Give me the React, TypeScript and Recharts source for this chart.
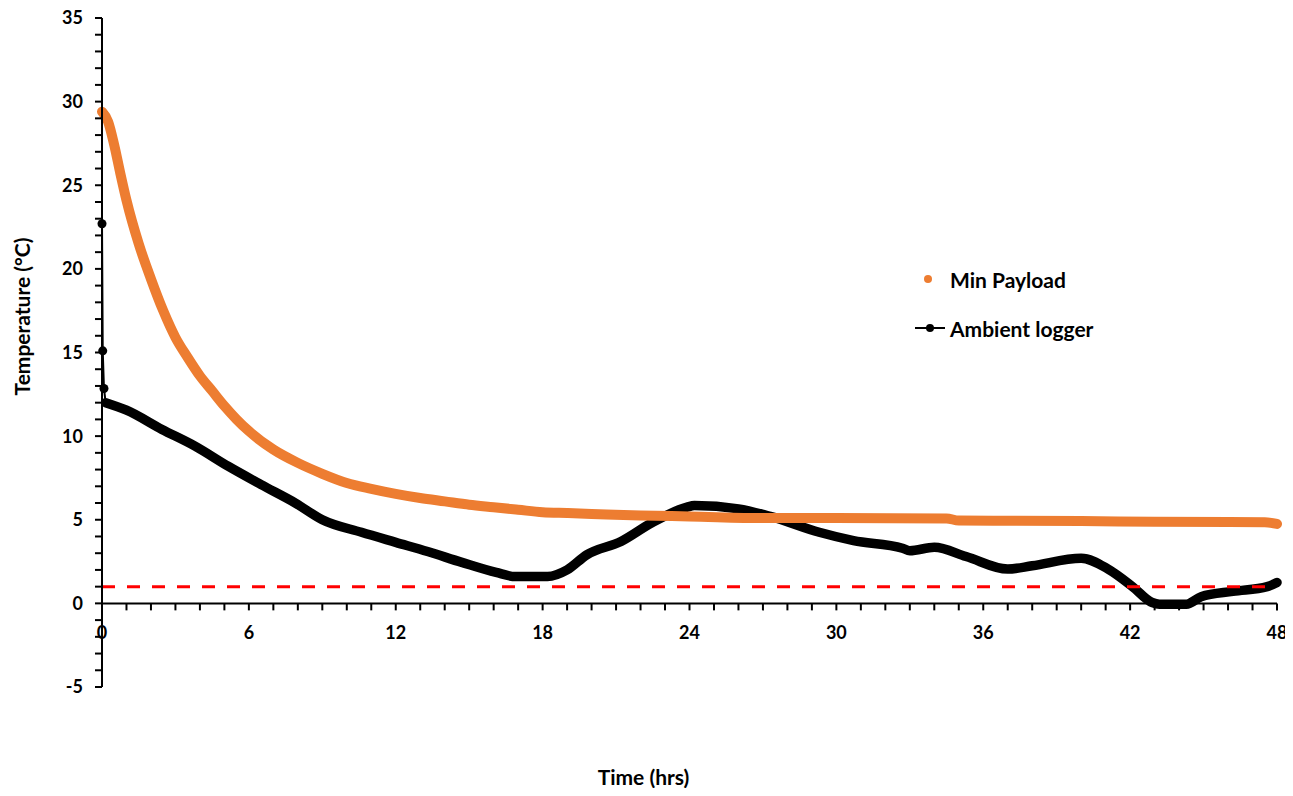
import React from 'react';
import { LineChart, Line, XAxis, YAxis, ReferenceLine, Legend } from 'recharts';

// Min Payload (orange)
const payloadTime = [0, 0.25, 0.5, 0.75, 1, 1.5, 2, 2.5, 3, 3.5, 4, 4.5, 5, 5.5, 6, 7, 8, 9, 10, 11, 12, 13, 14, 15, 16, 17, 18, 19, 20, 22, 24, 27, 30, 34.5, 35, 40, 43, 47.5, 48];
const payloadTemp = [29.4, 28.8, 27.4, 25.7, 24.1, 21.5, 19.4, 17.5, 15.9, 14.7, 13.6, 12.7, 11.8, 11.0, 10.3, 9.2, 8.4, 7.75, 7.2, 6.85, 6.55, 6.3, 6.1, 5.9, 5.75, 5.6, 5.45, 5.4, 5.35, 5.25, 5.2, 5.1, 5.1, 5.08, 4.95, 4.92, 4.88, 4.85, 4.75];

// Ambient logger (black)
const loggerTime = [0, 0.03, 0.08, 0.15, 1, 2.45, 3.8, 5.15, 6.5, 7.9, 9, 10.6, 12, 13.3, 14.7, 16.1, 16.9, 18.2, 19, 19.8, 21.2, 22.5, 23.9, 24.2, 26, 27.3, 29.3, 30.7, 32.7, 33, 34, 35.3, 37, 38, 40, 41.1, 42.1, 42.9, 43.2, 44.3, 44.9, 46.2, 47.6, 48];
const loggerTemp = [22.7, 15.1, 12.85, 12.0, 11.55, 10.4, 9.4, 8.2, 7.1, 6.0, 5.0, 4.25, 3.65, 3.1, 2.45, 1.85, 1.6, 1.6, 2.0, 2.9, 3.7, 4.85, 5.75, 5.85, 5.65, 5.2, 4.25, 3.75, 3.3, 3.15, 3.35, 2.8, 2.05, 2.25, 2.7, 2.05, 1.0, 0.05, -0.05, -0.05, 0.4, 0.72, 1.0, 1.25];

const limitTemp = 1;

const xTicks = Array.from({ length: 49 }, (_, i) => i);
const yTicks = Array.from({ length: 41 }, (_, i) => i - 5);
const Y_MIN = -5;
const Y_MAX = 35;

const payload = payloadTime.map((t, i) => ({ t, v: payloadTemp[i] }));
const logger = loggerTime.map((t, i) => ({ t, v: loggerTemp[i] }));

const W = 1293;
const H = 796;
const margin = { top: 18, right: 16, bottom: 9, left: 42 };
const X_AXIS_H = 100;
const plotH = H - margin.top - margin.bottom - X_AXIS_H;
const zeroShift = (plotH * (0 - Y_MIN)) / (Y_MAX - Y_MIN);

const FONT = 'Lato, sans-serif';
const ORANGE = '#ED7D31';

const XTick = (props: any) => {
  const { x, y, payload: p } = props;
  const y0 = y - zeroShift;
  const v = p.value;
  return (
    <g>
      <line x1={x} x2={x} y1={y0} y2={y0 + 7} stroke="#000" strokeWidth={2} />
      {v % 6 === 0 && (
        <text x={x} y={y0 + 29} dy="0.36em" textAnchor="middle" fill="#000" fontFamily={FONT} fontWeight="bold" fontSize={18}>
          {v}
        </text>
      )}
    </g>
  );
};

// only the first readings (the drop at t=0) show as separate markers
const StartDot = (props: any) => {
  const { cx, cy, index } = props;
  if (index > 2 || cx == null) return <g key={index} />;
  return <circle key={index} cx={cx} cy={cy} r={4.5} fill="#000" />;
};

const renderLegend = () => (
  <div style={{ fontFamily: FONT, fontWeight: 'bold', fontSize: 21, color: '#000' }}>
    <div style={{ display: 'flex', alignItems: 'center', height: 30 }}>
      <svg width={40} height={30}>
        <circle cx={18} cy={15} r={4} fill={ORANGE} />
      </svg>
      <span>Min Payload</span>
    </div>
    <div style={{ display: 'flex', alignItems: 'center', height: 30, marginTop: 19 }}>
      <svg width={40} height={30}>
        <line x1={5} x2={35} y1={15} y2={15} stroke="#000" strokeWidth={2} />
        <circle cx={20} cy={15} r={4} fill="#000" />
      </svg>
      <span>Ambient logger</span>
    </div>
  </div>
);

export default function App() {
  return (
    <div style={{ margin: -8, background: '#fff' }}>
      <LineChart width={W} height={H} margin={margin}>
        <XAxis
          type="number"
          dataKey="t"
          domain={[0, 48]}
          ticks={xTicks}
          interval={0}
          height={X_AXIS_H}
          axisLine={false}
          tickLine={false}
          tickSize={0}
          tickMargin={0}
          tick={<XTick />}
          label={(p: any) => (
            <text
              x={p.viewBox.x + p.viewBox.width / 2 - 46}
              y={p.viewBox.y + 98}
              textAnchor="middle"
              fill="#000"
              fontFamily={FONT}
              fontWeight="bold"
              fontSize={21}
            >
              Time (hrs)
            </text>
          )}
          allowDuplicatedCategory={false}
        />
        <YAxis
          type="number"
          domain={[Y_MIN, Y_MAX]}
          ticks={yTicks}
          interval={0}
          width={60}
          axisLine={{ stroke: '#000', strokeWidth: 2 }}
          tickLine={{ stroke: '#000', strokeWidth: 2 }}
          tickSize={7}
          tickMargin={12}
          tickFormatter={(v: number) => (v % 5 === 0 ? String(v) : '')}
          tick={{ fill: '#000', fontFamily: FONT, fontWeight: 'bold', fontSize: 18 }}
          label={(p: any) => (
            <text
              x={21}
              y={p.viewBox.y + p.viewBox.height / 2 - 36}
              transform={`rotate(-90, 21, ${p.viewBox.y + p.viewBox.height / 2 - 36})`}
              textAnchor="middle"
              dominantBaseline="central"
              fill="#000"
              fontFamily={FONT}
              fontWeight="bold"
              fontSize={21}
            >
              Temperature (°C)
            </text>
          )}
        />
        <ReferenceLine y={0} stroke="#000" strokeWidth={2} />
        <Legend
          layout="horizontal"
          verticalAlign="middle"
          align="center"
          content={renderLegend}
          wrapperStyle={{ position: 'absolute', left: 910, top: 264, width: 260 }}
        />
        <Line
          data={logger}
          dataKey="v"
          type="linear"
          stroke="#000"
          strokeWidth={2}
          dot={<StartDot />}
          isAnimationActive={false}
          legendType="none"
        />
        <Line
          data={logger.filter((d) => d.t >= 0.15)}
          dataKey="v"
          type="monotone"
          stroke="#000"
          strokeWidth={9.5}
          strokeLinecap="round"
          strokeLinejoin="round"
          dot={false}
          isAnimationActive={false}
          legendType="none"
        />
        <Line
          data={payload}
          dataKey="v"
          type="monotone"
          stroke={ORANGE}
          strokeWidth={10}
          strokeLinecap="round"
          strokeLinejoin="round"
          dot={false}
          isAnimationActive={false}
          legendType="none"
        />
        <ReferenceLine y={limitTemp} stroke="#FF0000" strokeWidth={3} strokeDasharray="13 12" />
      </LineChart>
    </div>
  );
}
